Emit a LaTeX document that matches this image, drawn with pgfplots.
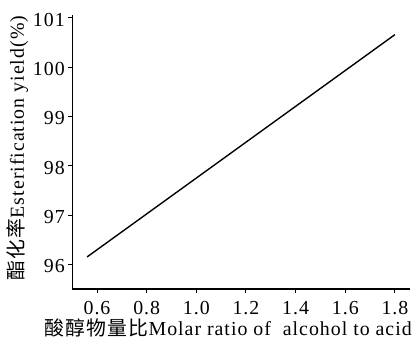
\documentclass[border=0pt]{standalone}
\usepackage{fontspec}
\setmainfont{Liberation Serif}[LetterSpace=5]
\newfontfamily\cjk{Noto Sans CJK SC}[LetterSpace=6]
\usepackage{pgfplots}
\pgfplotsset{compat=1.18}

\begin{document}
\begin{tikzpicture}
\begin{axis}[
  scale only axis,
  width=340pt, height=276pt,
  xmin=0.5, xmax=1.86,
  ymin=95.5, ymax=101.06,
  axis x line=bottom, axis y line=left,
  axis line style={-, line width=1.1pt, black},
  xtick={0.6,0.8,1.0,1.2,1.4,1.6,1.8},
  ytick={96,97,98,99,100,101},
  tick align=outside,
  major tick length=4pt,
  tick style={line width=1pt, black},
  /pgf/number format/assume math mode=true,
  xticklabel style={/pgf/number format/fixed, /pgf/number format/fixed zerofill, /pgf/number format/precision=1, yshift=-5pt},
  yticklabel style={yshift=-2pt},
  ticklabel style={font=\fontsize{20}{24}\selectfont},
  label style={font=\fontsize{20}{24}\selectfont},
  xlabel={{\cjk 酸醇物量比}Molar ratio of\ \ alcohol to acid},
  ylabel={{\cjk 酯化率}Esterification yield(\%)},
  xlabel style={at={(axis description cs:0.5,0)}, anchor=center, yshift=-39pt, xshift=-13pt},
  ylabel style={yshift=-2pt, xshift=4pt},
  clip=false,
]
\addplot[black, line width=1.4pt] coordinates {
  (0.56, 96.15)
  (1.80, 100.66)
};
\end{axis}
\useasboundingbox (-72.7pt,-51pt) rectangle (342.3pt,291pt);
\end{tikzpicture}
\end{document}
